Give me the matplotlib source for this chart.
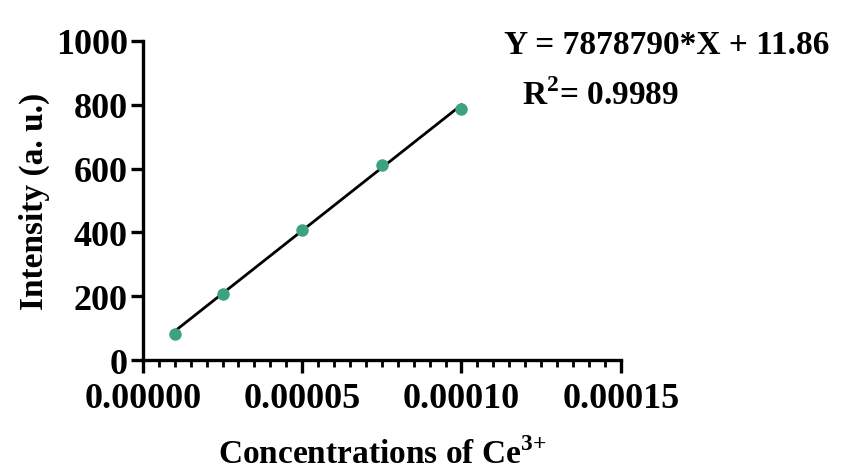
import numpy as np
import matplotlib
matplotlib.use("Agg")
import matplotlib.pyplot as plt
from matplotlib.ticker import MultipleLocator, FormatStrFormatter

# data
conc = [0.00001, 0.000025, 0.00005, 0.000075, 0.0001]
intensity = [82, 207, 408, 612, 787]
slope = 7878790
intercept = 11.86
r2 = 0.9989

plt.rcParams["font.family"] = ["Liberation Serif", "DejaVu Serif"]
plt.rcParams["font.weight"] = "bold"
plt.rcParams["mathtext.fontset"] = "custom"
plt.rcParams["mathtext.rm"] = "Liberation Serif:bold"
plt.rcParams["mathtext.bf"] = "Liberation Serif:bold"

fig = plt.figure(figsize=(8.61, 4.77), dpi=100)
ax = fig.add_axes([0.166, 0.243, 0.555, 0.669])

xfit = np.array([conc[0], conc[-1]])
ax.plot(xfit, slope * xfit + intercept, color="black", lw=2.0, zorder=2)
ax.plot(conc, intensity, "o", color="#3da37f", ms=9, mec="none", zorder=3)

ax.set_xlim(0, 0.00015)
ax.set_ylim(0, 1000)
ax.xaxis.set_major_locator(MultipleLocator(0.00005))
ax.xaxis.set_minor_locator(MultipleLocator(0.000005))
ax.xaxis.set_major_formatter(FormatStrFormatter("%.5f"))
ax.yaxis.set_major_locator(MultipleLocator(200))

for s in ["top", "right"]:
    ax.spines[s].set_visible(False)
for s in ["left", "bottom"]:
    ax.spines[s].set_linewidth(2.4)
ax.tick_params(which="major", length=9, width=2.4, labelsize=26, pad=2)
ax.tick_params(axis="x", which="major", pad=7)
ax.tick_params(which="minor", length=5, width=2.0)
for lab in ax.get_xticklabels() + ax.get_yticklabels():
    lab.set_fontweight("bold")

ax.set_xlabel(r"Concentrations of Ce$^{3{+}}$", fontsize=24, fontweight="bold", labelpad=16)
ax.set_ylabel("Intensity (a. u.)", fontsize=24, fontweight="bold", labelpad=4)

fig.text(0.585, 0.905, f"Y = {slope}*X + {intercept}", fontsize=24,
         fontweight="bold", ha="left", va="center")
fig.text(0.606, 0.80, r"R$^{2}$= " + f"{r2}", fontsize=24,
         fontweight="bold", ha="left", va="center")

fig.savefig("out.png", dpi=100)
